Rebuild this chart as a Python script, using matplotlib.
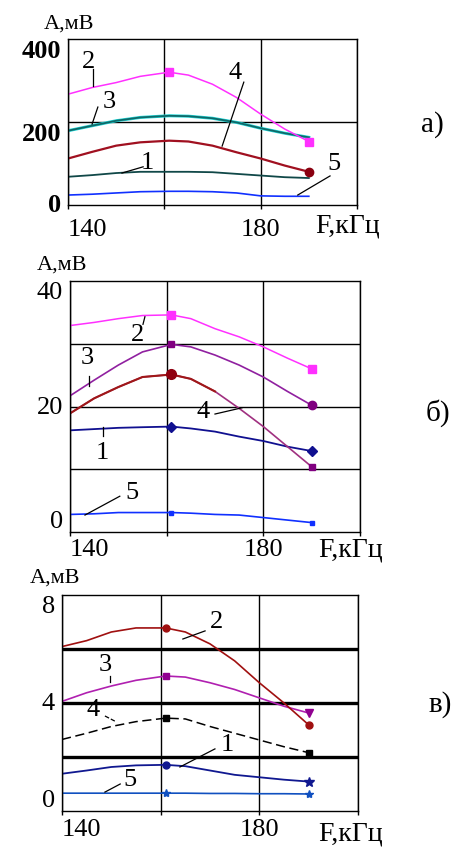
import matplotlib
matplotlib.use('Agg')
import matplotlib.pyplot as plt

plt.rcParams['font.family'] = ['Liberation Serif', 'DejaVu Serif']

# frequency grid, kHz (read every 5 kHz, measured points at 161 and 190)
F = [140, 145, 150, 155, 161, 165, 170, 175, 180, 185, 190]

# panel a), mV
a1 = [68, 72, 77, 80, 80, 80, 79, 75, 71, 67, 65]
a2 = [267, 283, 295, 310, 320, 313, 291, 259, 219, 183, 153]
a3 = [179, 191, 203, 211, 215, 214, 209, 199, 185, 173, 163]
a4 = [112, 128, 143, 151, 155, 153, 143, 127, 112, 95, 80]
a5 = [24, 26, 29, 32, 33, 33, 32, 29, 22, 21, 21]

# panel б), mV
b1 = [16.2, 16.4, 16.6, 16.7, 16.8, 16.5, 16.0, 15.2, 14.5, 13.6, 12.9]
b2 = [32.9, 33.4, 34.0, 34.5, 34.6, 34.0, 32.4, 31.1, 29.5, 27.7, 26.0]
b3 = [21.7, 24.2, 26.6, 28.7, 29.9, 29.5, 28.2, 26.6, 24.7, 22.4, 20.2]
b4 = [18.9, 21.3, 23.1, 24.7, 25.1, 24.4, 22.4, 19.7, 16.8, 13.6, 10.4]
b5 = [2.8, 2.9, 3.1, 3.1, 3.1, 3.0, 2.8, 2.7, 2.3, 1.9, 1.5]

# panel в), mV
c1 = [1.38, 1.5, 1.63, 1.69, 1.71, 1.66, 1.5, 1.34, 1.25, 1.16, 1.09]
c2 = [6.09, 6.31, 6.63, 6.78, 6.78, 6.63, 6.19, 5.56, 4.75, 4.0, 3.19]
c3 = [4.06, 4.38, 4.63, 4.84, 5.0, 4.96, 4.75, 4.5, 4.19, 3.88, 3.63]
c4 = [2.65, 2.88, 3.13, 3.31, 3.44, 3.41, 3.13, 2.88, 2.63, 2.38, 2.16]
c5 = [0.66, 0.66, 0.66, 0.66, 0.66, 0.66, 0.65, 0.65, 0.64, 0.64, 0.63]

xticks = [140, 160, 180, 200]
xlabels = ['140', '', '180', '']

W, H = 453, 854
fig = plt.figure(figsize=(W / 100, H / 100), dpi=100)


def rect(l, t, r, b):
    return [l / W, 1 - b / H, (r - l) / W, (b - t) / H]


def ftext(x, y, s, size, **kw):
    fig.text(x / W, 1 - y / H, s, fontsize=size, ha='center', va='center', **kw)


def setup(ax, ylim, yticks, ylabels, valigns, xpad, ysize=19, hgrid_lw=1.0):
    ax.set_xlim(140, 200)
    ax.set_ylim(*ylim)
    ax.set_xticks(xticks)
    ax.set_xticklabels(xlabels, fontsize=19)
    ax.get_xticklabels()[0].set_horizontalalignment('left')
    ax.set_yticks(yticks)
    ax.set_yticklabels(ylabels, fontsize=ysize)
    for lab, va in zip(ax.get_yticklabels(), valigns):
        lab.set_verticalalignment(va)
    ax.tick_params(axis='x', length=3, width=1, pad=xpad)
    ax.tick_params(axis='y', length=0, pad=5)
    ax.grid(axis='x', color='black', lw=1.0)
    for y in yticks[1:-1]:
        ax.axhline(y, color='black', lw=hgrid_lw, zorder=1)
    for s in ax.spines.values():
        s.set_linewidth(1.0)
    ax.set_axisbelow(True)


def label(ax, txt, tx, ty, x0, y0, x1, y1, ls='-'):
    ax.text(tx, ty, txt, fontsize=19, ha='center', va='center')
    ax.plot([x0, x1], [y0, y1], color='black', lw=0.9, ls=ls)


mk = [4, 10]

# ---- a)
ax = fig.add_axes(rect(68, 40, 357, 206))
setup(ax, (0, 400), [0, 200, 400], ['0', '200', '400'], ['center', 'top', 'top'], 6)
for lab in ax.get_yticklabels():
    lab.set_fontweight('bold')
ax.plot(F, a5, color='#1030ff', lw=1.2)
ax.plot(F, a1, color='#104848', lw=1.3)
ax.plot(F, a4, color='#a01020', lw=1.6)
ax.plot(F[-1:], a4[-1:], 'o', color='#8a0010', ms=6)
ax.plot(F, a3, color='#20d8d8', lw=2.2)
ax.plot(F, a3, color='#106868', lw=1.3)
ax.plot(F, a2, color='#ff30ff', lw=1.1, marker='s', ms=6, markevery=mk)
label(ax, '2', 144.2, 347, 145.2, 328, 145.2, 287)
label(ax, '3', 148.5, 251, 146.2, 236, 145.0, 195)
label(ax, '4', 174.7, 320, 176.5, 296, 172.0, 142)
label(ax, '1', 156.4, 104, 155.6, 92, 151.2, 77)
label(ax, '5', 195.2, 101, 194.4, 70, 187.7, 24)
ftext(69, 24, 'А,мВ', 16)
ftext(348, 226, 'F,кГц', 20)
ftext(432, 125, 'а)', 21)

# ---- б)
ax = fig.add_axes(rect(70, 282, 360, 533))
setup(ax, (0, 40), [0, 10, 20, 30, 40], ['0', '', '20', '', '40'],
      ['bottom', 'center', 'center', 'center', 'top'], 1)
ax.plot(F, b5, color='#1030ff', lw=1.2, marker='s', ms=3, markevery=mk)
ax.plot(F, b1, color='#101090', lw=1.3, marker='D', ms=5, markevery=mk)
ax.plot(F, b4, color='#a03080', lw=1.2)
ax.plot(F[:7], b4[:7], color='#a01818', lw=1.5)
ax.plot(F[4:5], b4[4:5], 'o', color='#900010', ms=7)
ax.plot(F[-1:], b4[-1:], 's', color='#800080', ms=4)
ax.plot(F, b3, color='#9020a0', lw=1.2)
ax.plot(F[4:5], b3[4:5], 's', color='#800080', ms=5)
ax.plot(F[-1:], b3[-1:], 'o', color='#800080', ms=6)
ax.plot(F, b2, color='#ff30ff', lw=1.1, marker='s', ms=6, markevery=mk)
label(ax, '2', 153.9, 31.6, 155.1, 33.1, 155.5, 34.3)
label(ax, '3', 143.5, 27.9, 143.9, 24.9, 143.9, 23.3)
label(ax, '4', 167.5, 19.3, 170.0, 18.8, 175.6, 19.8)
label(ax, '1', 146.6, 12.7, 146.8, 16.7, 146.8, 15.3)
label(ax, '5', 152.8, 6.4, 150.3, 5.7, 143.1, 2.7)
ftext(62, 265, 'А,мВ', 16)
ftext(351, 550, 'F,кГц', 20)
ftext(438, 413, 'б)', 21)

# ---- в)
ax = fig.add_axes(rect(62, 596, 358, 812))
setup(ax, (0, 8), [0, 2, 4, 6, 8], ['0', '', '4', '', '8'],
      ['bottom', 'center', 'center', 'center', 'top'], 2, hgrid_lw=2.4)
ax.plot(F, c5, color='#1050c0', lw=1.2, marker='*', ms=6, markevery=mk)
ax.plot(F, c1, color='#101890', lw=1.3)
ax.plot(F[4:5], c1[4:5], 'o', color='#101890', ms=5)
ax.plot(F[-1:], c1[-1:], '*', color='#101890', ms=7)
ax.plot(F, c4, color='black', lw=1.1, ls=(0, (6, 3)), marker='s', ms=5, markevery=mk)
ax.plot(F, c3, color='#b020b0', lw=1.2)
ax.plot(F[4:5], c3[4:5], 's', color='#900090', ms=5)
ax.plot(F[-1:], c3[-1:], 'v', color='#900090', ms=6)
ax.plot(F, c2, color='#a01010', lw=1.2, marker='o', ms=5, markevery=mk)
label(ax, '2', 171.4, 7.04, 169.0, 6.67, 164.5, 6.37)
label(ax, '3', 148.7, 5.44, 149.7, 5.0, 149.7, 4.78)
label(ax, '4', 146.3, 3.78, 148.7, 3.52, 150.7, 3.33, ls='--')
label(ax, '1', 173.5, 2.48, 171.0, 2.30, 163.9, 1.63)
label(ax, '5', 153.8, 1.19, 151.8, 1.0, 148.7, 0.70)
ftext(55, 578, 'А,мВ', 16)
ftext(351, 834, 'F,кГц', 20)
ftext(440, 705, 'в)', 21)

fig.savefig('out.png', dpi=100)
